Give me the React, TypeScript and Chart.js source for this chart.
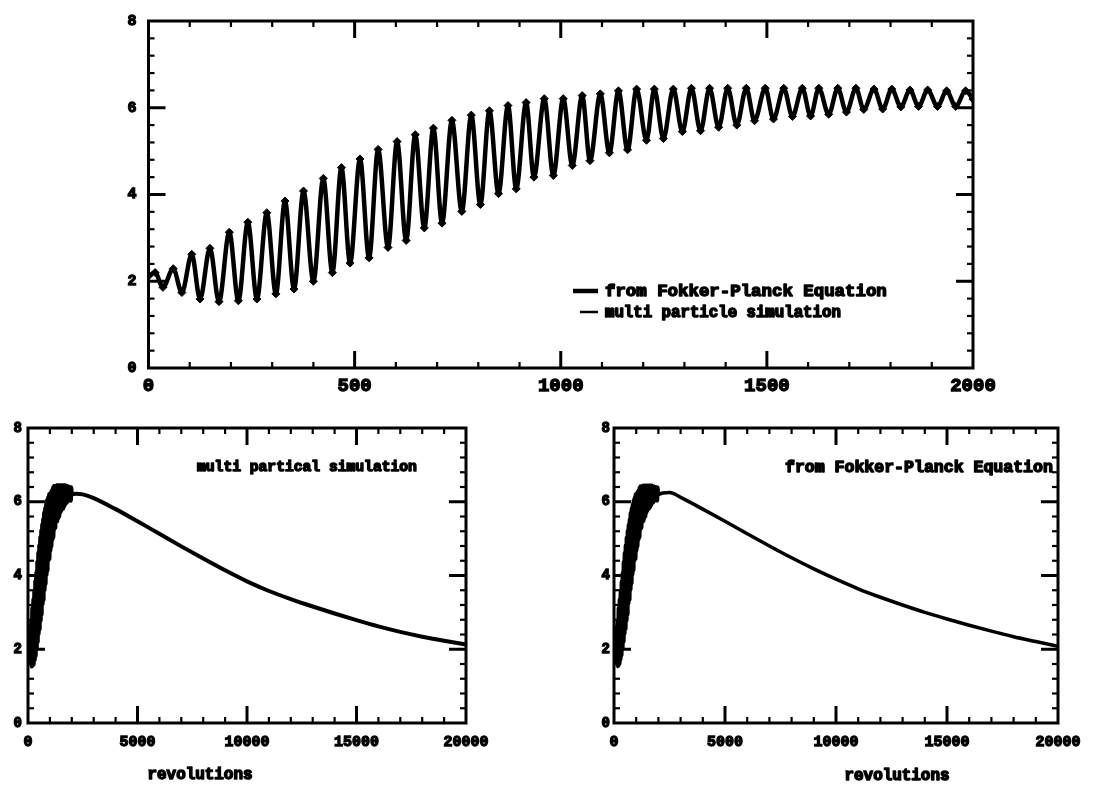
import React, { useEffect, useRef } from "react";
import { Chart, registerables } from "chart.js";

Chart.register(...registerables);

// ---------- DATA ----------
// Top panel: alternating peaks / troughs of the oscillation (revolutions, value)
const earlyRev = [
  0, 16, 35, 60, 81, 105, 125, 149, 171, 196, 218, 241, 263, 287, 309, 331, 353, 376, 400, 424,
  446, 468, 489, 513, 535, 557, 581, 603, 625, 647, 669, 691, 712, 736, 760, 783, 805, 827, 849, 872,
  892, 916, 935, 960, 982, 1006, 1028, 1052, 1071, 1096, 1118, 1140, 1162, 1184, 1208, 1227, 1249, 1273, 1295, 1317,
  1339, 1361, 1383, 1405, 1427, 1450, 1470, 1496, 1516, 1541, 1562, 1586, 1606, 1626, 1650, 1672, 1693, 1716, 1735, 1760,
  1781, 1803, 1825, 1847, 1868, 1890, 1914, 1936, 1958, 1982, 2000,
];
const earlyVal = [
  2.12, 2.2, 1.86, 2.29, 1.74, 2.62, 1.59, 2.76, 1.53, 3.13, 1.55, 3.36, 1.59, 3.58, 1.71, 3.85, 1.82, 4.08, 2.0, 4.37,
  2.2, 4.62, 2.42, 4.82, 2.54, 5.04, 2.78, 5.22, 2.94, 5.38, 3.23, 5.53, 3.34, 5.71, 3.61, 5.83, 3.77, 5.93, 4.02, 6.05,
  4.13, 6.12, 4.4, 6.21, 4.44, 6.21, 4.67, 6.28, 4.78, 6.32, 4.96, 6.39, 5.03, 6.43, 5.25, 6.43, 5.29, 6.43, 5.45, 6.45,
  5.47, 6.45, 5.55, 6.45, 5.6, 6.45, 5.7, 6.45, 5.74, 6.45, 5.8, 6.45, 5.81, 6.45, 5.85, 6.45, 5.9, 6.45, 5.96, 6.43,
  5.97, 6.43, 6.02, 6.41, 6.03, 6.41, 6.03, 6.39, 6.03, 6.39, 6.2,
];
// Bottom panels: slow decay after the oscillating start
const decayRev = [2200, 2500, 3000, 4000, 5000, 6000, 7000, 8000, 9000, 10000, 11000, 12000, 13000, 14000, 15000, 16000, 17000, 18000, 19000, 20000];
const fpDecay = [6.24, 6.25, 6.12, 5.8, 5.47, 5.13, 4.8, 4.48, 4.18, 3.9, 3.64, 3.41, 3.2, 3.0, 2.82, 2.65, 2.49, 2.34, 2.21, 2.08];
const simDecay = [6.22, 6.2, 6.1, 5.8, 5.47, 5.13, 4.79, 4.46, 4.14, 3.84, 3.58, 3.36, 3.16, 2.97, 2.79, 2.62, 2.47, 2.34, 2.23, 2.13];

const topXTicks = [0, 500, 1000, 1500, 2000];
const bottomXTicks = [0, 5000, 10000, 15000, 20000];
const yTicks = [0, 2, 4, 6, 8];

const FONT = '"Liberation Mono", "Courier New", monospace';

// ---------- helpers ----------
const pts = (xs: number[], ys: number[]) => xs.map((x, i) => ({ x, y: ys[i] }));

function framePlugin(p: { xMinor: number; xMajor: number; yMinor: number; yMajor: number }) {
  return {
    id: "frame",
    afterDatasetsDraw(chart: any) {
      const { ctx, chartArea: a, scales } = chart;
      const x = scales.x, y = scales.y;
      ctx.save();
      ctx.strokeStyle = "#000";
      ctx.lineCap = "butt";
      const seg = (x1: number, y1: number, x2: number, y2: number, w: number) => {
        ctx.lineWidth = w;
        ctx.beginPath();
        ctx.moveTo(x1, y1);
        ctx.lineTo(x2, y2);
        ctx.stroke();
      };
      const isMajor = (v: number, m: number) => Math.abs(v / m - Math.round(v / m)) < 1e-6;
      const nx = Math.round((x.max - x.min) / p.xMinor);
      for (let i = 1; i < nx; i++) {
        const v = x.min + i * p.xMinor;
        const px = x.getPixelForValue(v);
        const maj = isMajor(v, p.xMajor);
        const len = maj ? 17 : 6;
        const w = maj ? 3 : 2.2;
        seg(px, a.bottom, px, a.bottom - len, w);
        seg(px, a.top, px, a.top + len, w);
      }
      const ny = Math.round((y.max - y.min) / p.yMinor);
      for (let i = 1; i < ny; i++) {
        const v = y.min + i * p.yMinor;
        const py = y.getPixelForValue(v);
        const maj = isMajor(v, p.yMajor);
        const len = maj ? 17 : 6;
        const w = maj ? 3 : 2.2;
        seg(a.left, py, a.left + len, py, w);
        seg(a.right, py, a.right - len, py, w);
      }
      ctx.lineWidth = 3;
      ctx.strokeRect(a.left, a.top, a.right - a.left, a.bottom - a.top);
      ctx.restore();
    },
  };
}

type TextItem = { text: string; x: number; y: number; width: number; align?: "left" | "center" };
type LineItem = { x1: number; x2: number; y: number; w: number };

function annotPlugin(texts: TextItem[], lines: LineItem[]) {
  return {
    id: "annot",
    afterDraw(chart: any) {
      const ctx = chart.ctx;
      ctx.save();
      ctx.fillStyle = "#000";
      ctx.strokeStyle = "#000";
      for (const l of lines) {
        ctx.lineWidth = l.w;
        ctx.beginPath();
        ctx.moveTo(l.x1, l.y);
        ctx.lineTo(l.x2, l.y);
        ctx.stroke();
      }
      for (const t of texts) {
        ctx.font = `bold 16px ${FONT}`;
        const m = ctx.measureText(t.text).width;
        const size = (16 * t.width) / m;
        ctx.font = `bold ${size}px ${FONT}`;
        ctx.textBaseline = "middle";
        ctx.textAlign = t.align || "left";
        ctx.lineWidth = 1.5;
        ctx.lineJoin = "round";
        ctx.fillText(t.text, t.x, t.y);
        ctx.strokeText(t.text, t.x, t.y);
      }
      ctx.restore();
    },
  };
}

function axisCfg(opts: {
  min: number; max: number; ticks: number[]; fit: (s: any) => void; size: number; padding: number;
}) {
  return {
    type: "linear",
    min: opts.min,
    max: opts.max,
    afterBuildTicks: (s: any) => {
      s.ticks = opts.ticks.map((v) => ({ value: v }));
    },
    afterFit: opts.fit,
    grid: { display: false, drawTicks: false },
    border: { display: false },
    ticks: {
      color: "#000",
      font: { family: FONT, size: opts.size, weight: "bold" },
      padding: opts.padding,
      maxRotation: 0,
      minRotation: 0,
      autoSkip: false,
      textStrokeColor: "#000",
      textStrokeWidth: 1.3,
      callback: (v: any) => String(v),
    },
  };
}

function ChartCanvas({ width, height, left, top, build }: { width: number; height: number; left: number; top: number; build: () => any }) {
  const ref = useRef<HTMLCanvasElement | null>(null);
  useEffect(() => {
    if (!ref.current) return;
    const chart = new Chart(ref.current, build());
    return () => chart.destroy();
  }, []);
  return (
    <canvas
      ref={ref}
      width={width}
      height={height}
      style={{ position: "absolute", left, top, width, height }}
    />
  );
}

const baseOptions = {
  responsive: false,
  animation: false,
  devicePixelRatio: 1,
  events: [],
  plugins: { legend: { display: false }, tooltip: { enabled: false } },
};

function buildTop() {
  const data = pts(earlyRev, earlyVal);
  return {
    type: "line",
    data: {
      datasets: [
        {
          label: "from Fokker-Planck Equation",
          data,
          borderColor: "#000",
          borderWidth: 4.5,
          pointRadius: 0,
          cubicInterpolationMode: "monotone",
          fill: false,
        },
        {
          label: "multi particle simulation",
          data,
          showLine: false,
          pointStyle: "rectRot",
          pointRadius: 4,
          pointBackgroundColor: "#000",
          pointBorderColor: "#000",
          pointBorderWidth: 1,
        },
      ],
    },
    options: {
      ...baseOptions,
      layout: { padding: { left: 0, top: 11, right: 143, bottom: 0 } },
      scales: {
        x: axisCfg({ min: 0, max: 2000, ticks: topXTicks, fit: (s) => { s.height = 32; }, size: 19, padding: 7 }),
        y: axisCfg({ min: 0, max: 8, ticks: yTicks, fit: (s) => { s.width = 148.5; }, size: 15, padding: 12 }),
      },
    },
    plugins: [
      framePlugin({ xMinor: 100, xMajor: 500, yMinor: 0.4, yMajor: 2 }),
      annotPlugin(
        [
          { text: "from Fokker-Planck Equation", x: 605, y: 292, width: 282 },
          { text: "multi particle simulation", x: 605, y: 313, width: 236 },
        ],
        [
          { x1: 573, x2: 598, y: 291, w: 4.5 },
          { x1: 580, x2: 598, y: 312, w: 2.5 },
        ]
      ),
    ],
  };
}

function buildBottom(kind: "sim" | "fp") {
  const decay = kind === "sim" ? simDecay : fpDecay;
  const data = pts(earlyRev.concat(decayRev), earlyVal.concat(decay));
  const left = kind === "sim";
  return {
    type: "line",
    data: {
      datasets: [
        {
          label: left ? "multi partical simulation" : "from Fokker-Planck Equation",
          data,
          borderColor: "#000",
          borderWidth: left ? 4 : 3.5,
          pointRadius: 0,
          cubicInterpolationMode: "monotone",
          fill: false,
        },
      ],
    },
    options: {
      ...baseOptions,
      layout: { padding: { left: 0, top: 18, right: left ? 94 : 58, bottom: 0 } },
      scales: {
        x: axisCfg({ min: 0, max: 20000, ticks: bottomXTicks, fit: (s) => { s.height = 70; }, size: 15, padding: 10 }),
        y: axisCfg({ min: 0, max: 8, ticks: yTicks, fit: (s) => { s.width = left ? 28 : 54; }, size: 14, padding: left ? 6 : 4 }),
      },
    },
    plugins: [
      framePlugin({ xMinor: 1000, xMajor: 5000, yMinor: 0.4, yMajor: 2 }),
      annotPlugin(
        left
          ? [
              { text: "multi partical simulation", x: 197, y: 57, width: 220 },
              { text: "revolutions", x: 200, y: 365, width: 105, align: "center" },
            ]
          : [
              { text: "from Fokker-Planck Equation", x: 225, y: 58, width: 268 },
              { text: "revolutions", x: 337, y: 366, width: 105, align: "center" },
            ],
        []
      ),
    ],
  };
}

export default function App() {
  return (
    <div style={{ position: "absolute", left: 0, top: 0, width: 1116, height: 793, background: "#fff", overflow: "hidden" }}>
      <ChartCanvas left={0} top={0} width={1116} height={400} build={buildTop} />
      <ChartCanvas left={0} top={410} width={560} height={383} build={() => buildBottom("sim")} />
      <ChartCanvas left={560} top={410} width={556} height={383} build={() => buildBottom("fp")} />
    </div>
  );
}
